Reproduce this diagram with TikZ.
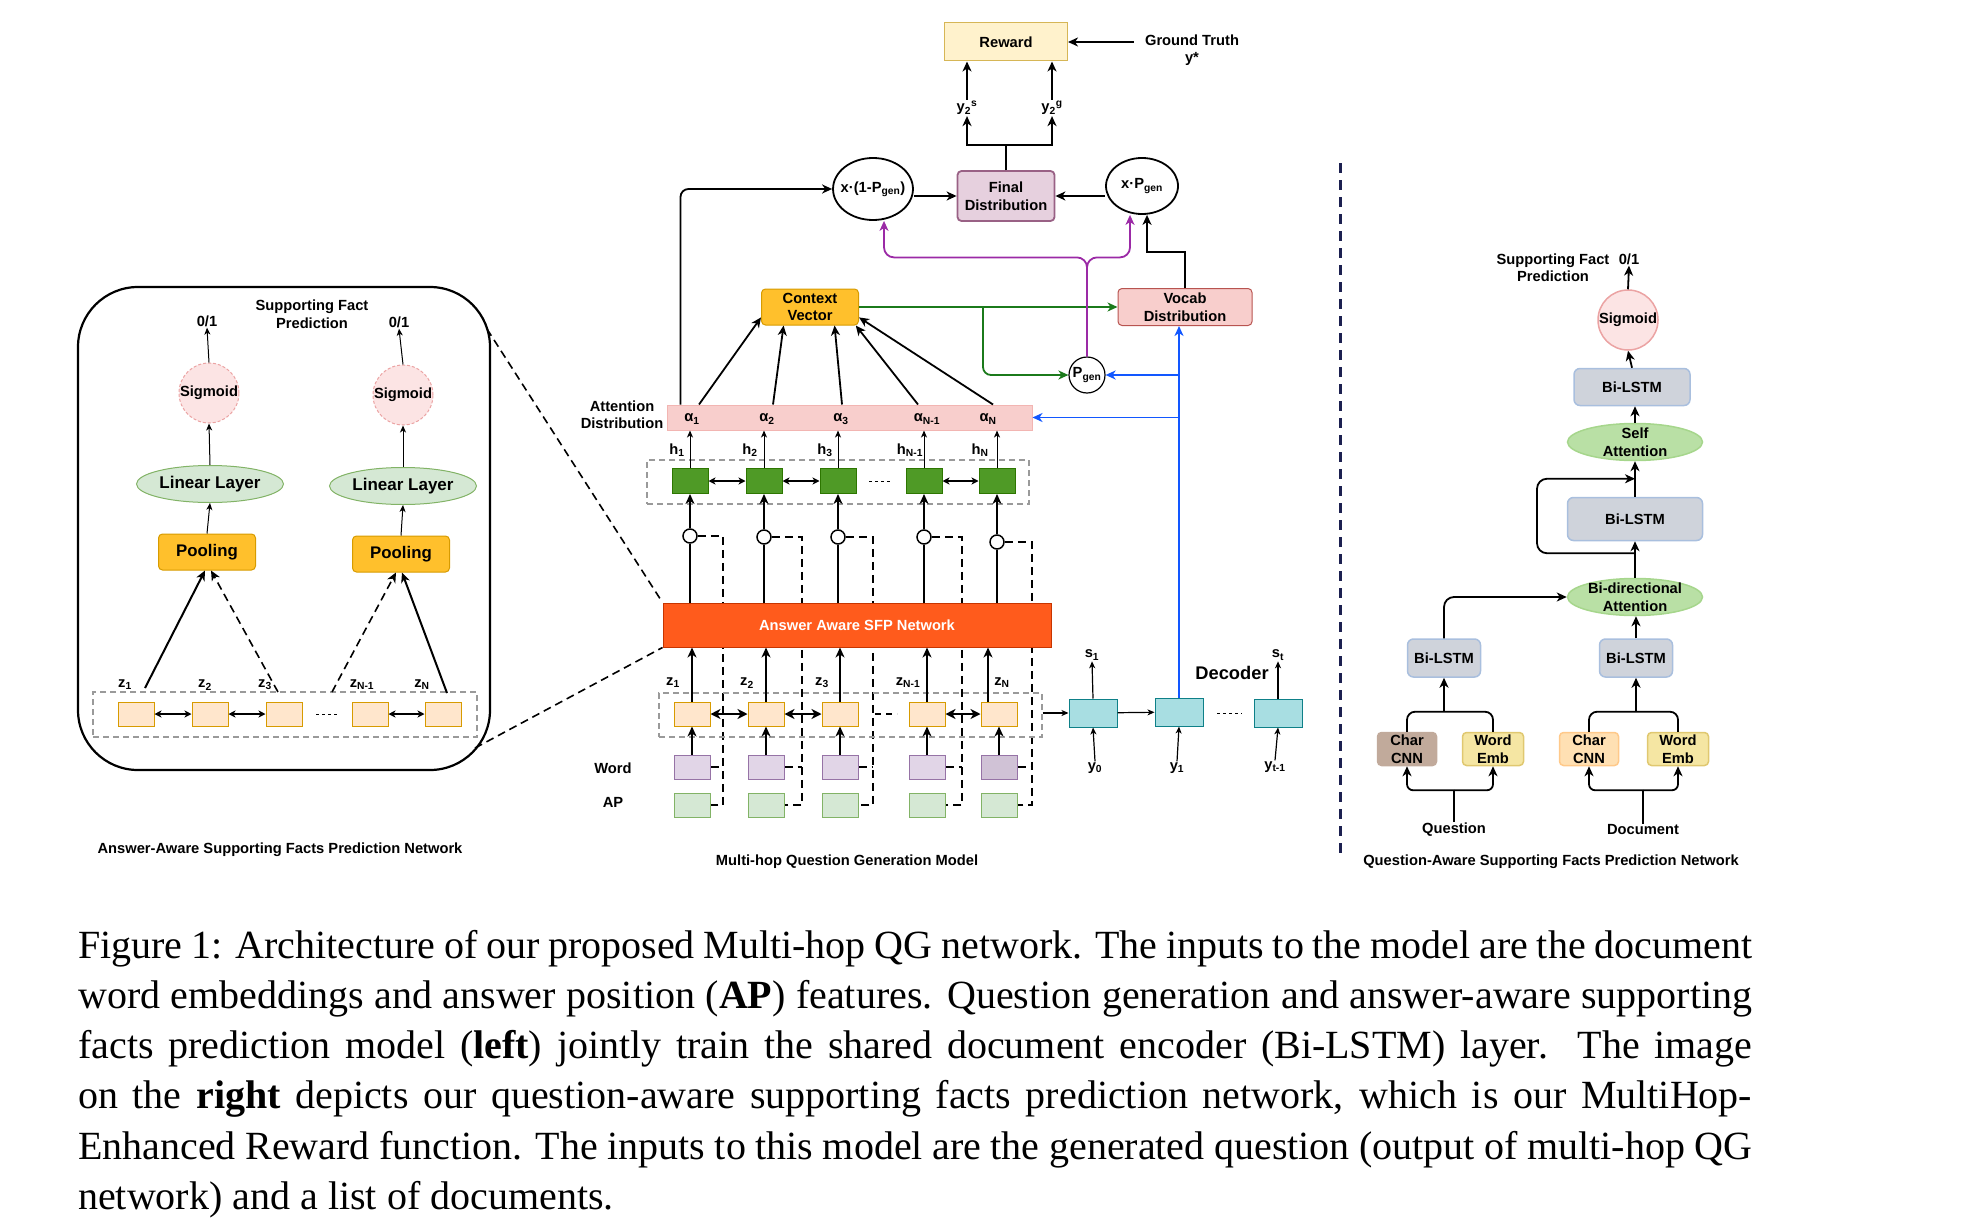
\documentclass[tikz,border=0pt]{standalone}
\usepackage{fontspec}
\setmainfont{Liberation Serif}
\setsansfont{Liberation Sans}
\usetikzlibrary{arrows.meta,shapes.geometric,backgrounds}

\definecolor{poolfill}{HTML}{FFC02C}
\definecolor{poolline}{HTML}{D79B00}
\definecolor{zfill}{HTML}{FFE6CC}
\definecolor{linfill}{HTML}{D5E8D4}
\definecolor{linline}{HTML}{82B366}
\definecolor{sigfill}{HTML}{FCE4E4}
\definecolor{sigline}{HTML}{EBA3A3}
\definecolor{hfill}{HTML}{4F9A26}
\definecolor{hline}{HTML}{2D7600}
\definecolor{sfpfill}{HTML}{FF5B1C}
\definecolor{sfpline}{HTML}{C73500}
\definecolor{wordfill}{HTML}{E1D5E7}
\definecolor{wordline}{HTML}{9673A6}
\definecolor{worddark}{HTML}{D0C2D6}
\definecolor{attnfill}{HTML}{F8CECC}
\definecolor{attnline}{HTML}{F2B5B2}
\definecolor{vocline}{HTML}{B85450}
\definecolor{finfill}{HTML}{E6D0DE}
\definecolor{finline}{HTML}{996185}
\definecolor{rewfill}{HTML}{FFF2CC}
\definecolor{rewline}{HTML}{D6B656}
\definecolor{decfill}{HTML}{A8DEE2}
\definecolor{decline}{HTML}{0E8088}
\definecolor{lstmfill}{HTML}{CFD3DB}
\definecolor{lstmline}{HTML}{A9BFDE}
\definecolor{attfill}{HTML}{B9E0A5}
\definecolor{attline}{HTML}{A6D68C}
\definecolor{charfill}{HTML}{C1AA9B}
\definecolor{embfill}{HTML}{F5E6A3}
\definecolor{embline}{HTML}{E0C870}
\definecolor{cnnfill}{HTML}{FFE0B3}
\definecolor{cnnline}{HTML}{FFC98A}
\definecolor{bluline}{HTML}{1257FF}
\definecolor{grnline}{HTML}{1B7A1B}
\definecolor{prpline}{HTML}{9B2AA6}
\definecolor{divline}{HTML}{1C2050}
\definecolor{boxgray}{HTML}{9A9A9A}

\providecommand{\lblfont}{\fontsize{14.7}{17.5}\selectfont\sffamily\bfseries}
\providecommand{\bigfont}{\fontsize{17}{19}\selectfont\sffamily\bfseries}
\providecommand{\capfont}{\fontsize{40}{50.2}\selectfont\rmfamily}
\newcommand{\capline}[1]{\makebox[1674pt][s]{#1}}

\begin{document}
\begin{tikzpicture}[x=1pt,y=-1pt,
    every node/.style={font=\lblfont, inner sep=1pt},
    box/.style={draw, line width=1pt, minimum width=36pt, minimum height=24pt, inner sep=0pt},
    zbox/.style={box, fill=zfill, draw=poolline},
    hbox/.style={box, fill=hfill, draw=hline, minimum height=25pt},
    wbox/.style={box, fill=wordfill, draw=wordline},
    apbox/.style={box, fill=linfill, draw=linline},
    dbox/.style={box, fill=decfill, draw=decline, minimum width=48pt, minimum height=28pt},
    grp/.style={draw=boxgray, line width=1.2pt, dash pattern=on 6pt off 4pt, inner sep=0pt},
    rbox/.style={draw, rounded corners=4pt, line width=1pt, align=center, inner sep=1pt},
    pool/.style={rbox, fill=poolfill, draw=poolline, minimum width=97pt, minimum height=36pt, font=\fontsize{16.8}{19}\selectfont\sffamily\bfseries},
    linl/.style={ellipse, draw=linline, fill=linfill, line width=1pt, minimum width=147pt, minimum height=37pt, inner sep=0pt, font=\bigfont},
    sig/.style={circle, minimum size=60pt, fill=sigfill, draw=sigline, line width=1pt, dash pattern=on 3pt off 2pt, inner sep=0pt},
    gate/.style={circle, draw, line width=1.5pt, fill=white, minimum size=14pt, inner sep=0pt},
    prod/.style={ellipse, draw, line width=1.8pt, inner xsep=-4pt, inner ysep=0pt},
    lstm/.style={rbox, fill=lstmfill, draw=lstmline, line width=1.5pt, rounded corners=6pt},
    att/.style={ellipse, fill=attfill, draw=attline, line width=1.5pt, minimum width=135pt, minimum height=37pt, inner xsep=0pt, inner ysep=-4pt, align=center},
    inbox/.style={rbox, line width=1.5pt, minimum width=59pt, minimum height=33pt, inner sep=0pt},
    arr/.style={-{Stealth[length=10pt,width=9pt,inset=3pt]}, line width=1.8pt},
    tarr/.style={-{Stealth[length=7pt,width=6pt,inset=2pt]}, line width=1pt},
    darr/.style={{Stealth[length=7pt,width=7pt,inset=2pt]}-{Stealth[length=7pt,width=7pt,inset=2pt]}, line width=1.2pt},
    dbarr/.style={{Stealth[length=10pt,width=10pt,inset=3pt]}-{Stealth[length=10pt,width=10pt,inset=3pt]}, line width=2.2pt},
    dlink/.style={line width=1.6pt, dash pattern=on 8pt off 5pt}]
\useasboundingbox (0,0) rectangle (1969,1228);

% left: answer-aware supporting facts prediction network
\node[draw, line width=2.2pt, rounded corners=60pt, minimum width=412pt, minimum height=483pt] (lpanel) at (284,528.5) {};
\node[align=center] (lsup) at (312,314) {Supporting Fact\\Prediction};
\node (lo1) at (207,321) {0/1};
\node (lo2) at (399,322) {0/1};
\node[sig] (ls1) at (209,393) {Sigmoid};
\node[sig] (ls2) at (403,395) {Sigmoid};
\node[linl] (ll1) at (210,484) {Linear Layer};
\node[linl] (ll2) at (403,486) {Linear Layer};
\node[pool] (pl1) at (207,552) {Pooling};
\node[pool] (pl2) at (401,554) {Pooling};
\node[grp, minimum width=384pt, minimum height=45pt] (lrow) at (285,714.5) {};
\foreach \n/\x in {1/136,2/210,3/284,4/370,5/443}
    \node[zbox] (lz\n) at (\x,714) {};
\foreach \n/\x/\t in {1/125/1,2/205/2,3/265/3,4/362/N-1,5/422/N}
    \node (lzl\n) at (\x,685) {z\textsubscript{\t}};
\draw[tarr] (ls1.north) -- (lo1.south);
\draw[tarr] (ls2.north) -- (lo2.south);
\draw[tarr] (ll1.north) -- (ls1.south);
\draw[tarr] (ll2.north) -- (ls2.south);
\draw[tarr] (pl1.north) -- (ll1.south);
\draw[tarr] (pl2.north) -- (ll2.south);
\draw[darr] (lz1) -- (lz2);
\draw[darr] (lz2) -- (lz3);
\draw[darr] (lz4) -- (lz5);
\draw[line width=1pt, dash pattern=on 3pt off 3pt] (316,714) -- (340,714);
\coordinate (lp1) at (145,688);
\coordinate (lp2) at (278,692);
\coordinate (lp3) at (332,692);
\coordinate (lp4) at (447,693);
\draw[arr, line width=2pt] (lp1) -- ([xshift=-2pt]pl1.south);
\draw[arr, dlink] (lp2) -- ([xshift=4pt]pl1.south);
\draw[arr, dlink] (lp3) -- ([xshift=-5pt]pl2.south);
\draw[arr, line width=2pt] (lp4) -- ([xshift=1pt]pl2.south);
\node (ltitle) at (280,850) {Answer-Aware Supporting Facts Prediction Network};

% middle: multi-hop question generation model
\node[draw=attnline, fill=attnfill, line width=1pt, minimum width=365pt, minimum height=25pt] (attn) at (849.5,417.5) {};
\node[align=center] (attnlbl) at (622,414.5) {Attention\\Distribution};
\foreach \n/\x/\t in {1/692/1,2/767/2,3/841/3,4/927/N-1,5/988/N}
    \node (al\n) at (\x,419) {α\textsubscript{\t}};
\foreach \n/\x/\t in {1/677/1,2/750/2,3/825/3,4/910/N-1,5/980/N}
    \node (hl\n) at (\x,450) {h\textsubscript{\t}};
\node[grp, minimum width=382pt, minimum height=44pt] (hrow) at (838,482) {};
\foreach \n/\x in {1/690,2/764,3/838,4/924,5/997}
    \node[hbox] (h\n) at (\x,481) {};
\foreach \n/\x/\y in {1/690/536,2/764/537,3/838/537,4/924/537,5/997/542}
    \node[gate] (c\n) at (\x,\y) {};
\node[draw=sfpline, fill=sfpfill, line width=1pt, minimum width=388pt, minimum height=44pt, text=white] (sfp) at (857,625) {Answer Aware SFP Network};
\node[grp, minimum width=383pt, minimum height=44pt] (mrow) at (850.5,715) {};
\foreach \n/\x in {1/692,2/766,3/840,4/927,5/999} {
    \node[zbox] (mz\n) at (\x,714) {};
    \node[wbox] (w\n) at (\x,767) {};
    \node[apbox] (p\n) at (\x,805) {};
}
\node[box, fill=worddark, draw=wordline] at (w5) {};
\foreach \n/\x/\t in {1/673/1,2/747/2,3/822/3,4/908/N-1,5/1002/N}
    \node (mzl\n) at (\x,683) {z\textsubscript{\t}};
\node (wordlbl) at (613,768) {Word};
\node (aplbl) at (613,802) {AP};
\begin{scope}[on background layer]
\foreach \n/\vx in {1/723,2/802,3/873,4/962,5/1032} {
    \coordinate (v\n) at (\vx,805);
    \draw[dlink] (c\n.east) -| (v\n) -- (p\n.east);
    \draw[dlink] (w\n.east) -- (w\n.east -| v\n);
}
\end{scope}
\foreach \n in {1,...,5} {
    \draw[tarr] (h\n.north) -- (h\n.north |- attn.south);
    \draw[line width=1.8pt] (c\n.south |- sfp.north) -- (c\n.south);
    \draw[arr] (c\n.north) -- (h\n.south);
    \draw[arr] (w\n.north) -- (mz\n.south);
}
\foreach \n in {1,...,4}
    \draw[arr] (mz\n.north) -- (mz\n.north |- sfp.south);
\draw[arr] ([xshift=-11pt]mz5.north) -- ([xshift=-11pt]mz5.north |- sfp.south);
\draw[darr, line width=1.5pt] (h1) -- (h2);
\draw[darr, line width=1.5pt] (h2) -- (h3);
\draw[darr, line width=1.5pt] (h4) -- (h5);
\draw[line width=1pt, dash pattern=on 3pt off 3pt] (869,481) -- (893,481);
\draw[dbarr] (mz1) -- (mz2);
\draw[dbarr] (mz2) -- (mz3);
\draw[dbarr] (mz4) -- (mz5);
\draw[line width=1.5pt, dash pattern=on 6pt off 5pt] (875,714) -- (897,714);
\coordinate (lzt) at (487,329);
\coordinate (lzb) at (475,748);
\draw[dlink] (lzt) -- (sfp.north west);
\draw[dlink] (lzb) -- (sfp.south west);
\node (mtitle) at (847,862) {Multi-hop Question Generation Model};

% top: context, distributions, reward
\node[rbox, fill=poolfill, draw=poolline, minimum width=97pt, minimum height=36pt] (ctx) at (810,307) {Context\\Vector};
\node[rbox, fill=attnfill, draw=vocline, minimum width=134pt, minimum height=37pt] (voc) at (1185,307) {Vocab\\Distribution};
\node[circle, draw, line width=1.2pt, minimum size=36pt, inner sep=0pt] (pg) at (1087,375) {P\textsubscript{gen}};
\node[prod, minimum width=79pt, minimum height=62pt] (pm1) at (873,189) {x·(1-P\textsubscript{gen})};
\node[prod, minimum width=72pt, minimum height=56pt, inner xsep=0pt] (pm2) at (1142,186) {x·P\textsubscript{gen}};
\node[rbox, fill=finfill, draw=finline, line width=1.8pt, minimum width=97pt, minimum height=50pt] (fin) at (1006,196) {Final\\Distribution};
\node[draw=rewline, fill=rewfill, line width=1pt, minimum width=123pt, minimum height=38pt] (rew) at (1006,42) {Reward};
\node[align=center] (gt) at (1192,50) {Ground Truth\\y*};
\node (ys) at (967,108) {y\textsubscript{2}\textsuperscript{s}};
\node (yg) at (1052,108) {y\textsubscript{2}\textsuperscript{g}};
\draw[arr, shorten <=10pt] ([yshift=8pt]gt.west) -- ([yshift=8pt]gt.west -| rew.east);
\draw[arr] (ys.north) -- (ys.north |- rew.south);
\draw[arr] (yg.north) -- (yg.north |- rew.south);
\draw[arr] (fin.north) -- ++(0,-25) -| (ys.south);
\draw[arr] (fin.north) -- ++(0,-25) -| (yg.south);
\draw[arr] (pm1.east |- fin.west) -- (fin.west);
\draw[arr] (pm2.west |- fin.east) -- (fin.east);
\draw[arr, rounded corners=8pt] ([xshift=14pt]attn.north west) |- (pm1.west);
\draw[arr] (voc.north) -- ++(0,-36) -| ([xshift=5pt]pm2.south);
\foreach \n/\dx/\ang in {1/7/192,2/6/215,3/1/323,4/-9/338,5/5/348}
    \draw[arr] ([xshift=\dx pt]al\n.north |- attn.north) -- (ctx.\ang);
\draw[arr, grnline] (ctx.east) -- (voc.west);
\draw[arr, grnline, rounded corners=8pt] ([xshift=124pt]ctx.east) |- (pg.west);
\path (pg.north) ++(0,-99) coordinate (pj);
\draw[arr, prpline, rounded corners=10pt] (pg.north) -- (pj) -| ([xshift=11pt]pm1.south);
\draw[arr, prpline, rounded corners=10pt] (pg.north) -- (pj) -| ([xshift=-12pt]pm2.south);

% decoder
\node[dbox] (d1) at (1093,713) {};
\node[dbox] (d2) at (1179,712) {};
\node[dbox] (d3) at (1278,713) {};
\node (s1) at (1092,655) {s\textsubscript{1}};
\node (st) at (1278,655) {s\textsubscript{t}};
\node[font=\fontsize{18.3}{20}\selectfont\sffamily\bfseries] (declbl) at (1232,673) {Decoder};
\node (y0) at (1095,768) {y\textsubscript{0}};
\node (y1) at (1177,768) {y\textsubscript{1}};
\node (yt) at (1275,767) {y\textsubscript{t-1}};
\draw[tarr, line width=1.2pt] (mrow.east |- d1.west) -- (d1.west);
\draw[tarr, line width=1.2pt] (d1) -- (d2);
\draw[line width=1pt, dash pattern=on 3pt off 3pt] (1217,713) -- (1242,713);
\draw[tarr, line width=1.2pt] (d1.north) -- (s1.south);
\draw[tarr, line width=1.2pt] (d3.north) -- (st.south);
\draw[tarr, line width=1.2pt] (y0.north) -- (d1.south);
\draw[tarr, line width=1.2pt] (y1.north) -- (d2.south);
\draw[tarr, line width=1.2pt] (yt.north) -- (d3.south);
\draw[arr, bluline] (d2.north) -- (d2.north |- voc.south);
\draw[arr, bluline] (d2.north |- pg.east) -- (pg.east);
\draw[arr, bluline] (d2.north |- attn.east) -- (attn.east);

% divider
\draw[divline, line width=3pt, dash pattern=on 10pt off 7pt] (1340,163) -- (1340,860);

% right: question-aware supporting facts prediction network
\node[align=center] (rsup) at (1553,267.5) {Supporting Fact\\Prediction};
\node (ro) at (1629,259) {0/1};
\node[circle, minimum size=60pt, inner sep=0pt, fill=sigfill, draw=sigline, line width=1.5pt] (rsig) at (1628,320) {Sigmoid};
\node[lstm, minimum width=116pt, minimum height=37pt] (rbl1) at (1632,387) {Bi-LSTM};
\node[att] (rsa) at (1635,442) {Self\\Attention};
\node[lstm, minimum width=135pt, minimum height=43pt] (rbl2) at (1635,519) {Bi-LSTM};
\node[att] (rbda) at (1635,597) {Bi-directional\\Attention};
\node[lstm, minimum width=73pt, minimum height=38pt] (qbl) at (1444,658) {Bi-LSTM};
\node[lstm, minimum width=73pt, minimum height=38pt] (dbl) at (1636,658) {Bi-LSTM};
\node[inbox, fill=charfill, draw=charfill] (qcc) at (1407,749) {Char\\CNN};
\node[inbox, fill=embfill, draw=embline, minimum width=61pt] (qwe) at (1493,749) {Word\\Emb};
\node[inbox, fill=cnnfill, draw=cnnline] (dcc) at (1589,749) {Char\\CNN};
\node[inbox, fill=embfill, draw=embline, minimum width=61pt] (dwe) at (1678,749) {Word\\Emb};
\node (qlab) at (1454,830) {Question};
\node (dlab) at (1643,830) {Document};
\node (rtitle) at (1551,862) {Question-Aware Supporting Facts Prediction Network};
\draw[arr] (rsig.north) -- (ro.south);
\draw[arr] (rbl1.north) -- (rsig.south);
\draw[arr] (rsa.north) -- (rsa.north |- rbl1.south);
\draw[arr] (rbl2.north) -- (rsa.south);
\draw[arr] (rbda.north) -- (rbl2.south);
\path (rbl2.south) ++(0,12) coordinate (lp);
\draw[arr, rounded corners=10pt] (lp) -- ++(-98,0) |- ([yshift=18pt]rbl2.north);
\draw[arr] (dbl.north) -- (dbl.north |- rbda.south);
\draw[arr, rounded corners=10pt] (qbl.north) |- (rbda.west);
\path (qcc.north) ++(0,-20) coordinate (qj);
\path (dcc.north) ++(0,-20) coordinate (dj);
\draw[line width=1.8pt, rounded corners=8pt] (qcc.north) |- (qwe.north |- qj) -- (qwe.north);
\draw[line width=1.8pt, rounded corners=8pt] (dcc.north) |- (dwe.north |- dj) -- (dwe.north);
\draw[arr] (qbl.south |- qj) -- (qbl.south);
\draw[arr] (dbl.south |- dj) -- (dbl.south);
\path (qcc.south) ++(0,24) coordinate (qk);
\draw[line width=1.8pt] (qlab.north) -- (qlab.north |- qk);
\draw[arr, rounded corners=6pt] (qlab.north |- qk) -| (qcc.south);
\draw[arr, rounded corners=6pt] (qlab.north |- qk) -| (qwe.south);
\draw[line width=1.8pt] (dlab.north) -- (dlab.north |- qk);
\draw[arr, rounded corners=6pt] (dlab.north |- qk) -| (dcc.south);
\draw[arr, rounded corners=6pt] (dlab.north |- qk) -| (dwe.south);

% caption
\node[anchor=north west, inner sep=0pt, align=left, font=\capfont] (cap) at (78,930) {%
\capline{Figure 1: Architecture of our proposed Multi-hop QG network. The inputs to the model are the document}\\
\capline{word embeddings and answer position (\textbf{AP}) features. Question generation and answer-aware supporting}\\
\capline{facts prediction model (\textbf{left}) jointly train the shared document encoder (Bi-LSTM) layer.\ \ The image}\\
\capline{on the \textbf{right} depicts our question-aware supporting facts prediction network, which is our MultiHop-}\\
\capline{Enhanced Reward function. The inputs to this model are the generated question (output of multi-hop QG}\\
network) and a list of documents.};
\end{tikzpicture}
\end{document}
